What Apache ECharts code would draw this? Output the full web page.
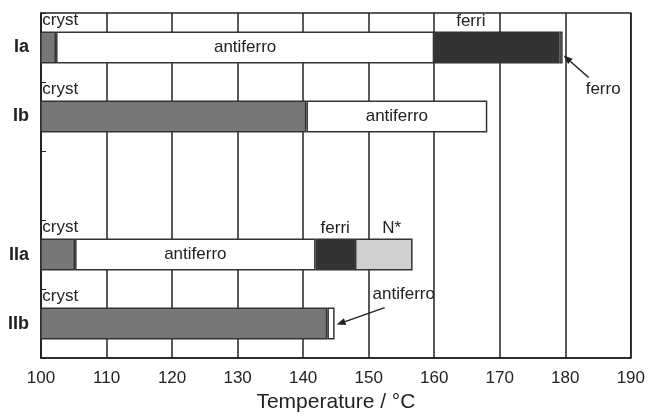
<!DOCTYPE html>
<html><head><meta charset="utf-8">
<script src="https://cdn.jsdelivr.net/npm/echarts@6/dist/echarts.min.js"></script>
<style>html,body{margin:0;padding:0;background:#fff}#c{width:648px;height:418px}</style>
</head><body><div id="c"></div>
<script>
// Compounds (rows, top to bottom); the empty entry is the gap row
const categories = ['Ia', 'Ib', '', 'IIa', 'IIb'];
// Upper transition temperature (°C) of each phase, per compound
const crystEnd     = [102.3, 140.5, null, 105.2, 143.7];
const antiferroEnd = [160.0, 168.1, null, 141.9, 144.8];
const ferriEnd     = [179.1, null,  null, 147.9, null];
const ferroEnd     = [179.6, null,  null, null,  null];
const nStarEnd     = [null,  null,  null, 156.7, null];
// X axis ticks
const xTicks = [100, 110, 120, 130, 140, 150, 160, 170, 180, 190];

const FONT = 'Liberation Sans, Arial, Helvetica, sans-serif';
const INK = '#222';

const phases = [
  { name: 'cryst',     ends: crystEnd,     color: '#777777' },
  { name: 'antiferro', ends: antiferroEnd, color: '#ffffff' },
  { name: 'ferri',     ends: ferriEnd,     color: '#333333' },
  { name: 'ferro',     ends: ferroEnd,     color: '#ffffff' },
  { name: 'N*',        ends: nStarEnd,     color: '#d0d0d0' }
];
let prev = categories.map(() => 0);
phases.forEach(p => {
  p.data = p.ends.map((e, i) => e == null ? null : +(e - prev[i]).toFixed(3));
  p.ends.forEach((e, i) => { if (e != null) prev[i] = e; });
});

const labelBase = { show: true, color: INK, fontFamily: FONT, fontSize: 17, formatter: '{a}' };

function itemLabels(p) {
  return p.data.map((v, i) => {
    if (v == null) return v;
    const item = { value: v };
    const cat = categories[i];
    if (p.name === 'cryst') {
      item.label = Object.assign({}, labelBase, { position: [2, -11], align: 'left', verticalAlign: 'middle' });
    } else if (p.name === 'antiferro' && cat !== 'IIb') {
      item.label = Object.assign({}, labelBase, { position: 'inside' });
    } else if (p.name === 'ferri') {
      item.label = Object.assign({}, labelBase, { position: 'top', distance: 2, offset: cat === 'Ia' ? [-26, 0] : [0, 0] });
    } else if (p.name === 'N*') {
      item.label = Object.assign({}, labelBase, { position: 'top', distance: 2, offset: [8, 0] });
    }
    return item;
  });
}

const chart = echarts.init(document.getElementById('c'), null, { renderer: 'canvas' });
chart.setOption({
  animation: false,
  backgroundColor: '#fff',
  grid: { left: 41, right: 17, top: 13, bottom: 54, show: true, borderColor: INK, borderWidth: 1.5, backgroundColor: 'transparent' },
  xAxis: {
    type: 'value', min: xTicks[0], max: xTicks[xTicks.length - 1], interval: 10,
    axisLine: { show: true, lineStyle: { color: INK, width: 1.5 } },
    axisTick: { show: false },
    splitLine: { show: true, lineStyle: { color: INK, width: 1.5 } },
    axisLabel: { color: INK, fontFamily: FONT, fontSize: 17, margin: 12 },
    name: 'Temperature / °C', nameLocation: 'middle', nameGap: 33,
    nameTextStyle: { color: INK, fontFamily: FONT, fontSize: 21 }
  },
  yAxis: {
    type: 'category', data: categories, inverse: true,
    axisLine: { show: true, lineStyle: { color: INK, width: 1.5 } },
    axisTick: { show: true, inside: true, length: 5, lineStyle: { color: INK } },
    splitLine: { show: false },
    axisLabel: { color: INK, fontFamily: FONT, fontSize: 18, fontWeight: 'bold', margin: 12 }
  },
  series: phases.map(p => ({
    name: p.name, type: 'bar', stack: 'phase', barWidth: 32,
    itemStyle: { color: p.color, borderColor: '#333', borderWidth: 1.5 },
    data: itemLabels(p)
  }))
});

// Arrow annotations anchored at data positions
function arrow(x1, y1, x2, y2) {
  const ang = Math.atan2(y2 - y1, x2 - x1), L = 9, W = 3.5;
  const bx = x2 - L * Math.cos(ang), by = y2 - L * Math.sin(ang);
  return [
    { type: 'line', shape: { x1: x1, y1: y1, x2: bx, y2: by }, style: { stroke: INK, lineWidth: 1.5 } },
    { type: 'polygon', shape: { points: [[x2, y2], [bx + W * Math.sin(ang), by - W * Math.cos(ang)], [bx - W * Math.sin(ang), by + W * Math.cos(ang)]] }, style: { fill: INK } }
  ];
}
const pFerro = chart.convertToPixel({ gridIndex: 0 }, [ferroEnd[0], categories[0]]);
const pAnti = chart.convertToPixel({ gridIndex: 0 }, [antiferroEnd[4], categories[4]]);
const g = [];
g.push(...arrow(pFerro[0] + 26, pFerro[1] + 30, pFerro[0] + 1, pFerro[1] + 8));
g.push({ type: 'text', x: pFerro[0] + 23, y: pFerro[1] + 42, style: { text: 'ferro', fill: INK, font: '17px ' + FONT, textAlign: 'left', textVerticalAlign: 'middle' } });
g.push(...arrow(pAnti[0] + 50, pAnti[1] - 16, pAnti[0] + 2, pAnti[1] + 1));
g.push({ type: 'text', x: pAnti[0] + 38, y: pAnti[1] - 29, style: { text: 'antiferro', fill: INK, font: '17px ' + FONT, textAlign: 'left', textVerticalAlign: 'middle' } });
chart.setOption({ graphic: g });
</script>
</body></html>
